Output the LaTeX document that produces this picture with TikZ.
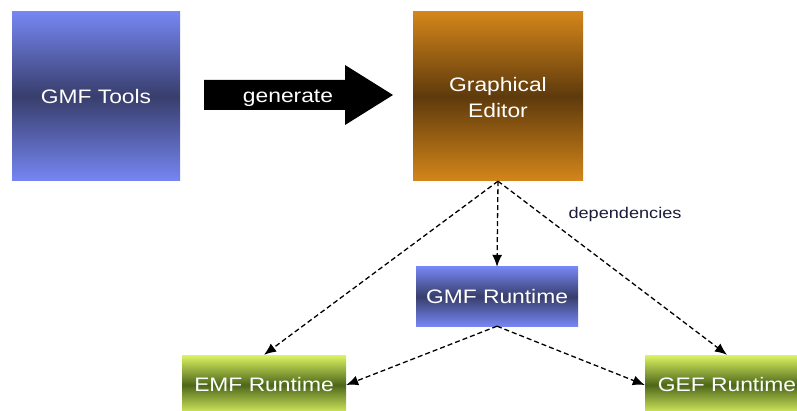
\documentclass[tikz,border=0pt]{standalone}
\usepackage{fontspec}
\setmainfont{Liberation Sans}
\newfontfamily\boxfont[FakeStretch=1.17]{Liberation Sans}
\usetikzlibrary{arrows.meta}
\definecolor{blueL}{HTML}{7686F2}
\definecolor{blueD}{HTML}{383E6C}
\definecolor{orL}{HTML}{D4861A}
\definecolor{orD}{HTML}{5E3A0C}
\definecolor{grL}{HTML}{DCF462}
\definecolor{grD}{HTML}{4E671A}
\definecolor{depcol}{HTML}{1A1A3A}
\tikzset{
  box/.style={inner sep=0pt, text=white, align=center,
    font=\boxfont\fontsize{19.5}{26}\selectfont},
  bluebox/.style={box, top color=blueL, bottom color=blueL, middle color=blueD},
  orbox/.style={box, top color=orL, bottom color=orL, middle color=orD},
  grbox/.style={box, top color=grL, bottom color=grL, middle color=grD},
  dep/.style={draw=black, line width=1.3pt, dash pattern=on 5pt off 3pt,
    -{Latex[length=12pt,width=10pt]}},
}
\begin{document}
\begin{tikzpicture}[x=1pt,y=-1pt]
\useasboundingbox (0,0) rectangle (797,411);
\node[bluebox, minimum width=168pt, minimum height=169pt] (tools) at (96,96.5) {GMF Tools};
\node[orbox, minimum width=170pt, minimum height=169pt] (ed) at (498,96.5) {};
\node[box] (edtext) at (498,98) {Graphical\\Editor};
\node[bluebox, minimum width=162pt, minimum height=59pt] (gmfr) at (497,296.5) {GMF Runtime};
\node[grbox, minimum width=164pt, minimum height=60pt] (emf) at (264,385) {EMF Runtime};
\node[grbox, minimum width=164pt, minimum height=60pt] (gef) at (727,385) {GEF Runtime};
% big generate arrow
\coordinate (a1) at (204,80);
\coordinate (a2) at (345,80);
\coordinate (a3) at (345,65);
\coordinate (a4) at (393,95);
\coordinate (a5) at (345,125);
\coordinate (a6) at (345,110);
\coordinate (a7) at (204,110);
\fill[black] (a1) -- (a2) -- (a3) -- (a4) -- (a5) -- (a6) -- (a7) -- cycle;
\node[box] (gen) at (288,98) {generate};
% dependencies
\draw[dep] (ed.south) -- (gmfr.north);
\draw[dep] (ed.south) -- (emf.north);
\draw[dep] (ed.south) -- (gef.north);
\draw[dep] (gmfr.south) -- (emf.east);
\draw[dep] (gmfr.south) -- (gef.west);
\node[text=depcol, font=\boxfont\fontsize{15.5}{18}\selectfont] (deplab) at (625,214) {dependencies};
\end{tikzpicture}
\end{document}
